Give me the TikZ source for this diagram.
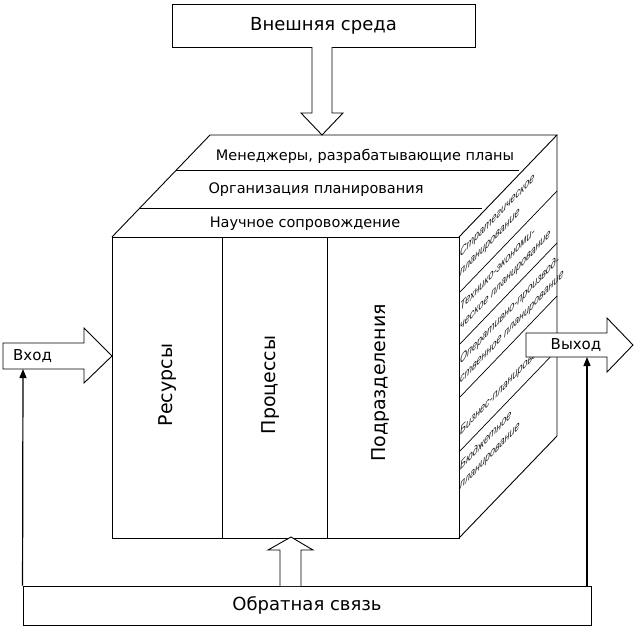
\documentclass[tikz,border=0pt]{standalone}
\usepackage{fontspec}
\setmainfont{DejaVu Sans}
\newfontfamily\facefont[FakeStretch=0.75]{Liberation Sans}
\usetikzlibrary{arrows.meta}

\begin{document}
\begin{tikzpicture}[x=1pt, y=-1pt,
    frame/.style={line width=0.9pt, line join=miter},
    edge/.style={line width=0.7pt},
    plate/.style={frame, draw, fill=white},
    boxtext/.style={inner sep=0pt, font=\fontsize{18}{21}\selectfont},
    toptext/.style={inner sep=0pt, font=\fontsize{14.5}{17}\selectfont},
    fronttext/.style={inner sep=0pt, rotate=90, font=\fontsize{19}{22}\selectfont},
    sidetext/.style={inner sep=0pt, anchor=north west, align=left, yslant=1.04, text=black!90,
      font=\facefont\itshape\fontsize{12}{19}\selectfont},
    feed/.style={line width=1.2pt, -{Triangle[length=9pt, width=7pt]}}]
  \useasboundingbox (0,0) rectangle (637,635);

  % the cube: front face with its three columns, top face and side face
  \draw[frame] (112,237) rectangle (459,538);
  \draw[frame] (112,237) -- (210,135) -- (557,135) -- (459,237);
  \draw[frame] (557,135) -- (557,436) -- (459,538);
  \draw[edge] (222,237) -- (222,538);
  \draw[edge] (327,237) -- (327,538);
  % layers of the top face
  \draw[edge] (176,170) -- (519,170);
  \draw[edge] (140,208) -- (482,208);
  % a band line of the side face: #1 = its y-coordinate at the front edge
  \newcommand{\bandline}[1]{%
    \draw[edge] (459,#1) -- (557,#1-102);}
  \foreach \y in {293,345,398,452} {\bandline{\y}}

  \node[toptext] (managers) at (365,156) {Менеджеры, разрабатывающие планы};
  \node[toptext] (organisation) at (316,190) {Организация планирования};
  \node[toptext] (science) at (305,224) {Научное сопровождение};

  \node[fronttext] (resources) at (168,385) {Ресурсы};
  \node[fronttext] (processes) at (271,385) {Процессы};
  \node[fronttext] (divisions) at (381,383) {Подразделения};

  % kinds of planning on the side face, one per band
  \node[sidetext] (strategic) at (460,249) {Стратегическое\\планирование};
  \node[sidetext] (economic) at (460,303) {Технико-экономи-\\ческое планирование};
  \node[sidetext] (operative) at (460,356) {Оперативно-производ-\\ственное планирование};
  \node[sidetext] (business) at (460,427) {Бизнес-планирование};
  \node[sidetext] (budget) at (460,462) {Бюджетное\\планирование};

  % external environment and the arrow down to the cube
  \node[plate, boxtext, minimum width=303pt, minimum height=43pt] (environment) at (323.5,25.5) {Внешняя среда};
  \draw[plate] (312,47) -- (312,113) -- (301,113) -- (322,135) -- (343,113) -- (332,113) -- (332,47);

  % input and output
  \draw[plate] (3,343) -- (84,343) -- (84,328) -- (112,356) -- (84,383) -- (84,369) -- (3,369) -- cycle;
  \node[boxtext, anchor=west, font=\fontsize{15}{18}\selectfont] (input) at (13,356) {Вход};
  \draw[plate] (526,333) -- (607,333) -- (607,318) -- (633,345) -- (607,372) -- (607,357) -- (526,357) -- cycle;
  \node[boxtext, font=\fontsize{15}{18}\selectfont] (output) at (576,345) {Выход};
  \coordinate (inputbase) at (23,369);
  \coordinate (outputbase) at (587,357);

  % feedback
  \node[plate, boxtext, minimum width=568pt, minimum height=39pt] (feedback) at (307,605.5) {Обратная связь};
  \draw[plate] (280,586) -- (280,550) -- (268,550) -- (291,537) -- (313,550) -- (301,550) -- (301,586);
  \draw[feed] (feedback.north west) -- (inputbase);
  \draw[feed] (feedback.north east -| outputbase) -- (outputbase);
\end{tikzpicture}
\end{document}
